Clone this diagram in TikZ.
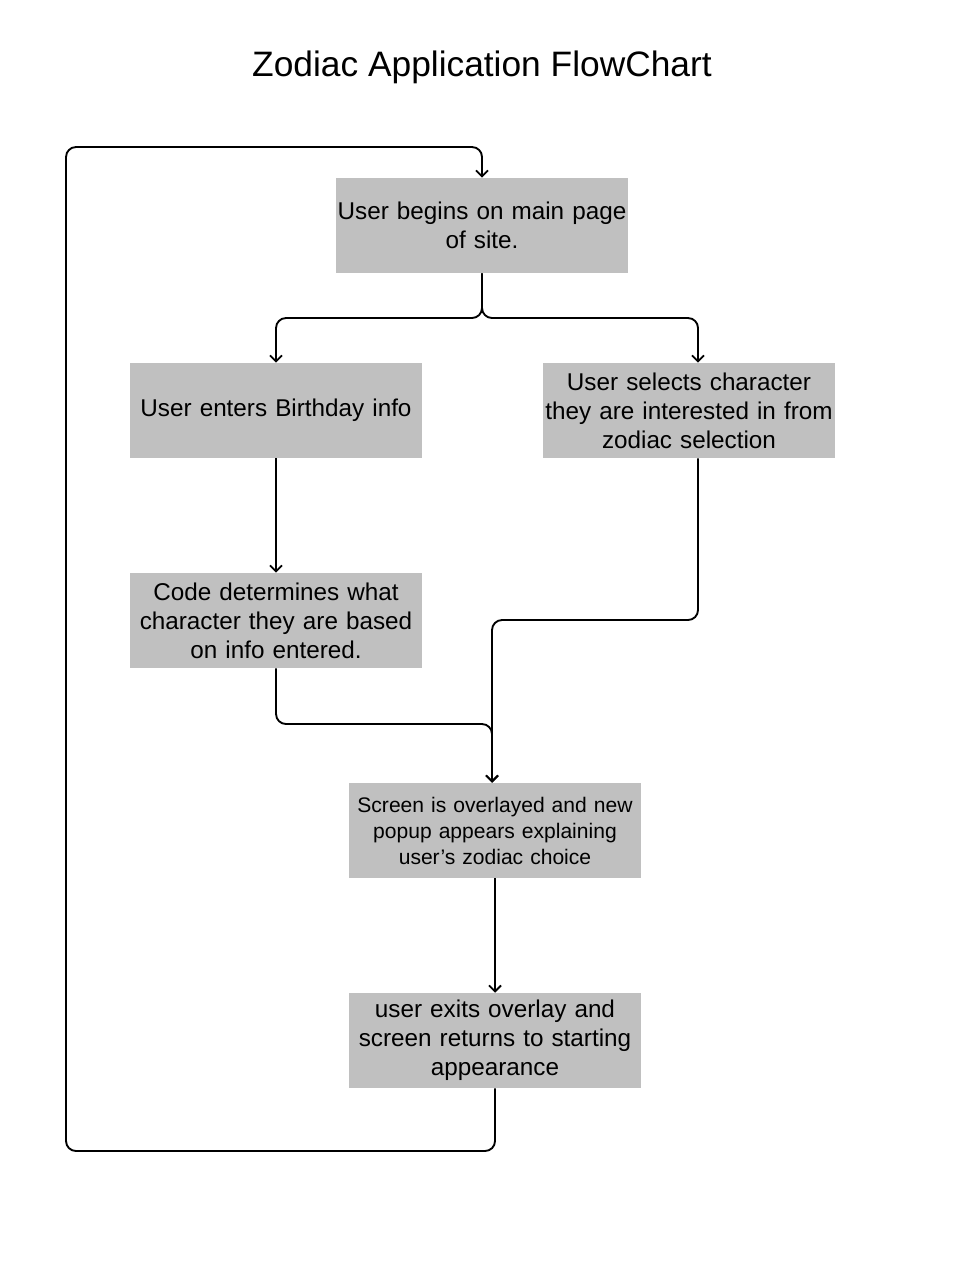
\documentclass[tikz,border=0pt]{standalone}
\usepackage{fontspec}
\setmainfont{Liberation Sans}
\usetikzlibrary{arrows.meta}
\begin{document}
\begin{tikzpicture}[x=0.75pt,y=-0.75pt,
  box/.style={fill={rgb,255:red,192;green,192;blue,192},draw=none,minimum width=219pt,minimum height=71.25pt,inner sep=0pt,align=center,text width=218pt,font=\fontsize{18.2}{21.75}\selectfont},
  smallbox/.style={box,font=\fontsize{15.8}{19.5}\selectfont},
  arr/.style={draw=black,line width=1.4pt,rounded corners=7.5pt,-{Straight Barb[length=4.5pt,width=9pt,line width=1.4pt]}}]
\useasboundingbox (0,0) rectangle (964,1264);
\node[font=\fontsize{26.5}{32}\selectfont] (title) at (482,67) {Zodiac Application FlowChart};
\node[box] (b1) at (482,225.5) {User begins on main page\\of site.};
\node[box] (b2) at (276,410.5) {User enters Birthday info};
\node[box] (b3) at (689,410.5) {User selects character\\they are interested in from\\zodiac selection};
\node[box] (b4) at (276,620.5) {Code determines what\\character they are based\\on info entered.};
\node[smallbox] (b5) at (495,830.5) {Screen is overlayed and new\\popup appears explaining\\user’s zodiac choice};
\node[box] (b6) at (495,1040.5) {user exits overlay and\\screen returns to starting\\appearance};
\draw[arr] (b1.south) -- (482,318) -| (b2.north);
\draw[arr] (b1.south) -- (482,318) -| ([xshift=6.75pt]b3.north);
\draw[arr] (b2.south) -- (b4.north);
\draw[arr] ([xshift=6.75pt]b3.south) -- (698,620) -| ([xshift=-2.25pt]b5.north);
\draw[arr] (b4.south) -- (276,724) -| ([xshift=-2.25pt]b5.north);
\draw[arr] (b5.south) -- (b6.north);
\draw[arr] (b6.south) -- (495,1151) -- (66,1151) -- (66,147) -- (482,147) -- (b1.north);
\end{tikzpicture}
\end{document}
